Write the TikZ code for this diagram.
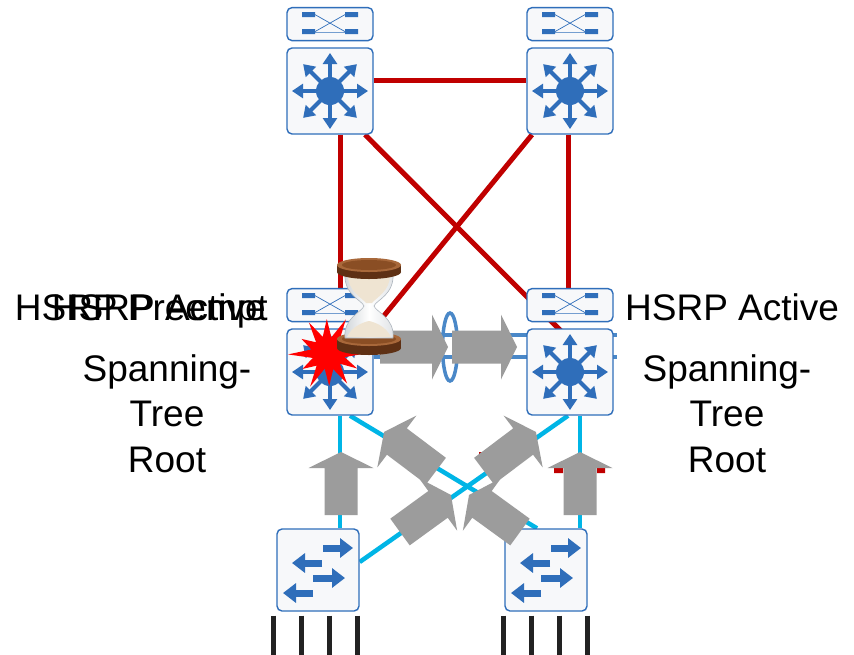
\documentclass[tikz,border=0pt]{standalone}
\usepackage{fontspec}
\setmainfont{Liberation Sans}
\usetikzlibrary{arrows.meta, positioning, backgrounds}
\definecolor{corered}{HTML}{C00000}
\definecolor{accesscyan}{HTML}{00B5E6}
\definecolor{ciscoblue}{HTML}{2F6EBA}
\definecolor{boxfill}{HTML}{F7F8FA}
\definecolor{flowgrey}{HTML}{9C9C9C}
\definecolor{trunkblue}{HTML}{4A88C8}
\definecolor{portblack}{HTML}{222222}
\definecolor{burstred}{HTML}{FF0000}
\definecolor{woodlight}{HTML}{A8683A}
\definecolor{woodmid}{HTML}{8A4E24}
\definecolor{wooddark}{HTML}{5E3014}
\definecolor{sand}{HTML}{EFE4D2}
\definecolor{glassedge}{HTML}{AEB6BE}

% tail x, tail y, angle, length
\newcommand{\flowarrow}[4]{%
  \fill[flowgrey, shift={(#1,#2)}, rotate=#3]
    (0,-16.5) -- (#4-16,-16.5) -- (#4-16,-32.5) -- (#4,0)
    -- (#4-16,32.5) -- (#4-16,16.5) -- (0,16.5) -- cycle;}

\tikzset{
  devbox/.style={draw=ciscoblue, line width=1.4pt, fill=boxfill, rounded corners=5pt,
                 inner sep=0pt, minimum width=86pt, minimum height=86pt},
  tagbox/.style={devbox, minimum height=33pt},
  accbox/.style={devbox, minimum width=82pt, minimum height=82pt},
  redlink/.style={corered, line width=5pt},
  cyanlink/.style={accesscyan, line width=4.5pt},
  trunk/.style={trunkblue, line width=4pt},
  lbl/.style={font=\fontsize{37}{45.5}\selectfont, inner sep=0pt},
  l3icon/.pic={
    \fill[ciscoblue] (0,0) circle (14);
    \foreach \a in {0,45,...,315}
      \draw[ciscoblue, line width=4.2pt, -{Triangle[width=14pt,length=11pt]}] (\a:10) -- (\a:38);
  },
  tagicon/.pic={
    \fill[ciscoblue] (-28,-12) rectangle (-15,-7) (-28,5) rectangle (-15,10)
                     (15,-12) rectangle (28,-7) (15,5) rectangle (28,10);
    \draw[ciscoblue, line width=0.7pt] (-15,-9.5) -- (15,7.5) (-15,7.5) -- (15,-9.5)
                                      (-15,8.5) -- (15,8.5);
  },
  l2icon/.pic={
    \foreach \ya/\xs/\xe in {-22/5/35, -7/4/-26, 8/-5/27, 23/-5/-35}
      \draw[ciscoblue, line width=7pt, -{Triangle[width=19pt,length=13pt]}] (\xs,\ya) -- (\xe,\ya);
  }
}

\begin{document}
\begin{tikzpicture}[x=1pt, y=-1pt]
  \useasboundingbox (0,0) rectangle (854,654);

  % core pair
  \node[devbox] (coreL) at (330,91) {};
  \node[devbox] (coreR) at (570,91) {};
  \node[tagbox, above=6pt of coreL] (coreLtag) {};
  \node[tagbox, above=6pt of coreR] (coreRtag) {};
  % distribution pair
  \node[devbox] (distL) at (330,372) {};
  \node[devbox] (distR) at (570,372) {};
  \node[tagbox, above=6pt of distL] (distLtag) {};
  \node[tagbox, above=6pt of distR] (distRtag) {};
  % access switches
  \node[accbox] (accL) at (318,570) {};
  \node[accbox] (accR) at (546,570) {};

  \foreach \n in {coreL, coreR, distL, distR} {
    \pic at (\n) {l3icon};
    \pic at (\n tag) {tagicon};
  }
  \pic at (accL) {l2icon};
  \pic at (accR) {l2icon};

  \begin{scope}[on background layer]
    \fill[white] (0,0) rectangle (854,654);
    \draw[redlink] ([yshift=11pt]coreL.east) -- ([yshift=11pt]coreR.west);
    \draw[redlink] ([xshift=10pt]coreL.south) -- ([xshift=10pt]distLtag.north);
    \draw[redlink] ([xshift=-2pt]coreR.south) -- ([xshift=-2pt]distRtag.north);
    \draw[redlink] ([xshift=35pt]coreL.south) -- ([yshift=32pt]distR.center);
    \draw[redlink] ([xshift=-38pt]coreR.south) -- (distL.north east);
    \draw[cyanlink] ([xshift=10pt]distL.south) -- ([xshift=22pt]accL.north);
    \draw[cyanlink] ([xshift=10pt]distR.south) -- ([xshift=34pt]accR.north);
    \draw[cyanlink] ([xshift=20pt]distL.south) -- ([xshift=-9pt]accR.north);
    \draw[cyanlink] ([xshift=-2pt]distR.south) -- ([yshift=8pt]accL.east);
    \draw[trunk] ([yshift=37pt]distL.east) -- ([yshift=37pt,xshift=3pt]distR.east);
    \draw[trunk] ([yshift=15pt]distL.east) -- ([yshift=15pt,xshift=3pt]distR.east);
  \end{scope}

  % ports under the access switches
  \foreach \dx in {-45,-17,11,39}
    \draw[portblack, line width=5pt] ([xshift=\dx pt, yshift=-4pt]accL.south) -- ++(0,40);
  \foreach \dx in {-43,-15,13,41}
    \draw[portblack, line width=5pt] ([xshift=\dx pt, yshift=-4pt]accR.south) -- ++(0,40);

  % bundle ring
  \draw[trunkblue, line width=3.5pt] (450,347) ellipse [x radius=7.5, y radius=34];

  \fill[corered] (554,466) rectangle (563,473) (597,466) rectangle (605,473)
                 (479,452) rectangle (488,460);

  % traffic flow
  \flowarrow{380}{347}{0}{68}
  \flowarrow{452}{347}{0}{65}
  \flowarrow{341}{515}{90}{63}
  \flowarrow{580}{515}{90}{63}
  \flowarrow{436}{471}{143}{65}
  \flowarrow{400}{532}{36}{63}
  \flowarrow{484}{471}{37}{65}
  \flowarrow{520}{532}{144}{63}

  % failure burst
  \fill[burstred, shift={(328,353)}]
    (0:40) -- (14:17) -- (28:33) -- (42:16) -- (58:36) -- (72:17) -- (88:33) -- (102:16)
    -- (118:38) -- (132:17) -- (148:30) -- (162:16) -- (178:40) -- (192:17) -- (208:30)
    -- (222:16) -- (238:36) -- (252:17) -- (268:34) -- (282:16) -- (298:38) -- (312:17)
    -- (328:31) -- (342:16) -- cycle;

  % hourglass
  \fill[wooddark] (369,348) ellipse [x radius=32, y radius=7];
  \fill[wooddark] (337,339) rectangle (401,348);
  \fill[woodlight] (369,339) ellipse [x radius=32, y radius=7];
  \fill[woodmid] (369,339) ellipse [x radius=27, y radius=5];
  \shade[left color=glassedge!60, right color=glassedge!40, middle color=white, draw=glassedge, line width=0.6pt]
    (345,272) .. controls (343,295) and (362,300) .. (364,306)
    .. controls (362,312) and (343,318) .. (345,338) -- (393,338)
    .. controls (395,318) and (376,312) .. (374,306)
    .. controls (376,300) and (395,295) .. (393,272) -- cycle;
  \fill[sand] (348,275) .. controls (348,291) and (361,297) .. (366,303) -- (372,303)
    .. controls (377,297) and (390,291) .. (390,275) -- cycle;
  \fill[sand] (347,337) .. controls (352,326) and (364,322) .. (369,321)
    .. controls (374,322) and (386,326) .. (391,337) -- cycle;
  \fill[wooddark] (369,272) ellipse [x radius=32, y radius=7];
  \fill[wooddark] (337,265) rectangle (401,272);
  \fill[woodlight] (369,265) ellipse [x radius=32, y radius=7];
  \fill[woodmid] (369,265) ellipse [x radius=27, y radius=5];

  % labels
  \node[lbl, anchor=base east] (preemptL) at (268,320) {HSRP Preempt};
  \node[lbl, anchor=base east] (hsrpL) at (266,320) {HSRP Active};
  \node[lbl, anchor=base west] (hsrpR) at (625,320) {HSRP Active};
  \node[lbl, align=center, anchor=base] (stpL) at (167,472) {Spanning-\\Tree\\Root};
  \node[lbl, align=center, anchor=base] (stpR) at (727,472) {Spanning-\\Tree\\Root};
\end{tikzpicture}
\end{document}
